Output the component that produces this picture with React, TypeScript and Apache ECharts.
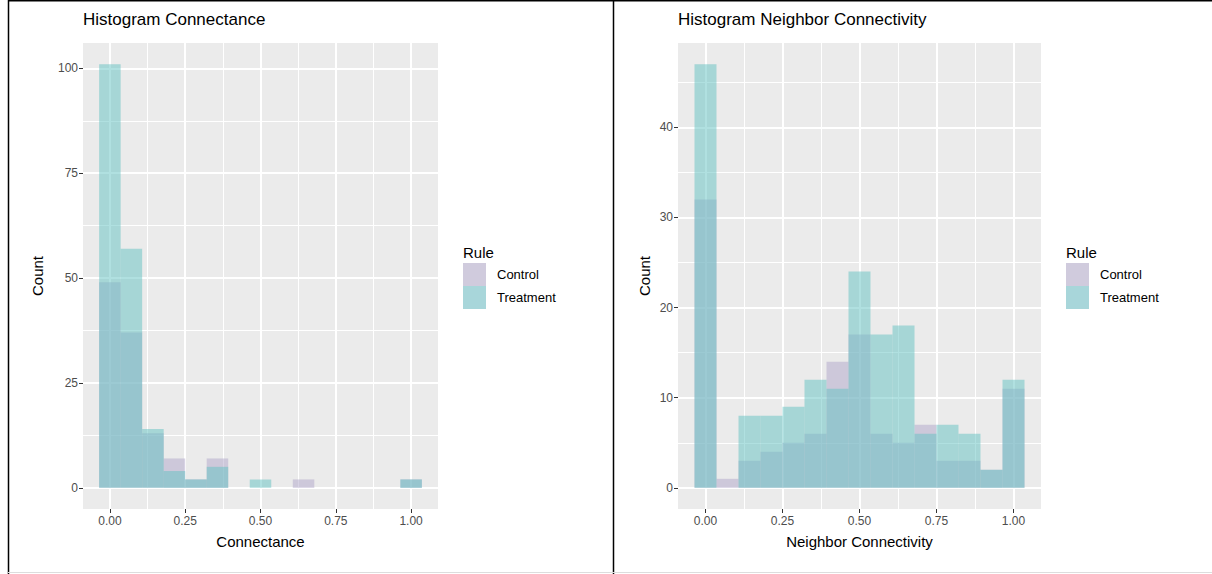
import React, { useEffect, useRef } from 'react';
import * as echarts from 'echarts';

// ---- data ----
const binCenters = [0, 0.0714, 0.1429, 0.2143, 0.2857, 0.3571, 0.4286, 0.5, 0.5714, 0.6429, 0.7143, 0.7857, 0.8571, 0.9286, 1.0];
const binWidth = 0.0714;
const ruleLevels = ['Control', 'Treatment'];

const connectanceControl = [49, 37, 13, 7, 2, 7, 0, 0, 0, 2, 0, 0, 0, 0, 2];
const connectanceTreatment = [101, 57, 14, 4, 2, 5, 0, 2, 0, 0, 0, 0, 0, 0, 2];

const neighborControl = [32, 1, 3, 4, 5, 6, 14, 17, 6, 5, 7, 3, 3, 2, 11];
const neighborTreatment = [47, 0, 8, 8, 9, 12, 11, 24, 17, 18, 6, 7, 6, 2, 12];

const xTicks = [0, 0.25, 0.5, 0.75, 1];
const xMinorTicks = [0.125, 0.375, 0.625, 0.875];
const connectanceYTicks = [0, 25, 50, 75, 100];
const connectanceYMinor = [12.5, 37.5, 62.5, 87.5];
const neighborYTicks = [0, 10, 20, 30, 40];
const neighborYMinor = [5, 15, 25, 35, 45];

const panelTitles = ['Histogram Connectance', 'Histogram Neighbor Connectivity'];
const xTitles = ['Connectance', 'Neighbor Connectivity'];

// ---- styles ----
const FONT = '"Liberation Sans", Arial, Helvetica, sans-serif';
const CONTROL_FILL = '#AFA5C9';
const TREATMENT_FILL = '#62C2C2';
const CONTROL_KEY = '#D0CBDD';
const TREATMENT_KEY = '#A8D6DA';
const PANEL_BG = '#EBEBEB';

const grids = [
  { left: 83, top: 43, width: 355, height: 466 },
  { left: 678, top: 43, width: 363, height: 466 },
];

function binData(counts: number[]) {
  return binCenters.map((c, i) => [c - binWidth / 2, c + binWidth / 2, counts[i]]);
}

function histSeries(name: string, counts: number[], gridIdx: number, fill: string) {
  return {
    type: 'custom',
    name,
    xAxisIndex: gridIdx * 2,
    yAxisIndex: gridIdx * 2,
    data: binData(counts),
    renderItem: (_params: any, api: any) => {
      const x0 = api.value(0);
      const x1 = api.value(1);
      const y = api.value(2);
      if (!y) return null;
      const p0 = api.coord([x0, 0]);
      const p1 = api.coord([x1, y]);
      return {
        type: 'rect',
        shape: { x: p0[0], y: p1[1], width: p1[0] - p0[0], height: p0[1] - p1[1] },
        style: { fill, opacity: 0.5 },
      };
    },
  };
}

function xAxes(gridIndex: number, name: string) {
  const min = -binWidth / 2 - 0.05 * (1 + binWidth);
  const max = 1 + binWidth / 2 + 0.05 * (1 + binWidth);
  return [
    {
      gridIndex,
      type: 'value',
      min,
      max,
      position: 'bottom',
      axisLine: { show: false, onZero: false },
      axisTick: { show: true, length: 4, lineStyle: { color: '#333333', width: 1 }, customValues: xTicks },
      axisLabel: {
        customValues: xTicks,
        formatter: (v: number) => Number(v).toFixed(2),
        color: '#4D4D4D',
        fontSize: 12,
        fontFamily: FONT,
        margin: 6,
      },
      splitLine: { show: true, lineStyle: { color: '#FFFFFF', width: 2 } },
      name,
      nameLocation: 'middle',
      nameGap: 25,
      nameTextStyle: { fontSize: 15, color: '#000000', fontFamily: FONT },
    },
    {
      gridIndex,
      type: 'value',
      min,
      max,
      position: 'bottom',
      axisLine: { show: false, onZero: false },
      axisTick: { show: false, customValues: xMinorTicks },
      axisLabel: { show: false, customValues: xMinorTicks },
      splitLine: { show: true, lineStyle: { color: '#FFFFFF', width: 1 } },
    },
  ];
}

function yAxes(gridIndex: number, counts: number[], ticks: number[], minor: number[], nameGap: number) {
  const top = Math.max(...counts);
  const min = -0.05 * top;
  const max = top * 1.05;
  return [
    {
      gridIndex,
      type: 'value',
      min,
      max,
      position: 'left',
      axisLine: { show: false, onZero: false },
      axisTick: { show: true, length: 4, lineStyle: { color: '#333333', width: 1 }, customValues: ticks },
      axisLabel: {
        customValues: ticks,
        formatter: (v: number) => String(Math.round(v)),
        color: '#4D4D4D',
        fontSize: 12,
        fontFamily: FONT,
        margin: 5,
      },
      splitLine: { show: true, lineStyle: { color: '#FFFFFF', width: 2 } },
      name: 'Count',
      nameLocation: 'middle',
      nameGap,
      nameTextStyle: { fontSize: 15, color: '#000000', fontFamily: FONT },
    },
    {
      gridIndex,
      type: 'value',
      min,
      max,
      position: 'left',
      axisLine: { show: false, onZero: false },
      axisTick: { show: false, customValues: minor },
      axisLabel: { show: false, customValues: minor },
      splitLine: { show: true, lineStyle: { color: '#FFFFFF', width: 1 } },
    },
  ];
}

function legendGraphics(keyX: number, top: number) {
  return [
    { type: 'text', style: { text: 'Rule', x: keyX, y: top - 11, verticalAlign: 'middle', fontSize: 15, fontFamily: FONT, fill: '#000' } },
    { type: 'rect', shape: { x: keyX, y: top, width: 23, height: 23 }, style: { fill: CONTROL_KEY } },
    { type: 'rect', shape: { x: keyX, y: top + 23, width: 23, height: 23 }, style: { fill: TREATMENT_KEY } },
    { type: 'text', style: { text: ruleLevels[0], x: keyX + 34, y: top + 11.5, verticalAlign: 'middle', fontSize: 13, fontFamily: FONT, fill: '#000' } },
    { type: 'text', style: { text: ruleLevels[1], x: keyX + 34, y: top + 34.5, verticalAlign: 'middle', fontSize: 13, fontFamily: FONT, fill: '#000' } },
  ];
}

export default function App() {
  const ref = useRef<HTMLDivElement>(null);

  useEffect(() => {
    if (!ref.current) return;
    const chart = echarts.init(ref.current, null, { renderer: 'svg' });
    const allLeft = connectanceControl.concat(connectanceTreatment);
    const allRight = neighborControl.concat(neighborTreatment);
    chart.setOption({
      animation: false,
      backgroundColor: '#FFFFFF',
      textStyle: { fontFamily: FONT },
      grid: grids.map((g) => ({ ...g, show: true, backgroundColor: PANEL_BG, borderWidth: 0 })),
      xAxis: [...xAxes(0, xTitles[0]), ...xAxes(1, xTitles[1])],
      yAxis: [
        ...yAxes(0, allLeft, connectanceYTicks, connectanceYMinor, 38),
        ...yAxes(1, allRight, neighborYTicks, neighborYMinor, 26),
      ],
      series: [
        histSeries(ruleLevels[0], connectanceControl, 0, CONTROL_FILL),
        histSeries(ruleLevels[1], connectanceTreatment, 0, TREATMENT_FILL),
        histSeries(ruleLevels[0], neighborControl, 1, CONTROL_FILL),
        histSeries(ruleLevels[1], neighborTreatment, 1, TREATMENT_FILL),
      ],
      graphic: [
        { type: 'line', shape: { x1: 8.5, y1: 0, x2: 8.5, y2: 574 }, style: { stroke: '#000', lineWidth: 1.5 } },
        { type: 'line', shape: { x1: 8, y1: 0.75, x2: 1212, y2: 0.75 }, style: { stroke: '#000', lineWidth: 1.5 } },
        { type: 'line', shape: { x1: 613.5, y1: 0, x2: 613.5, y2: 574 }, style: { stroke: '#000', lineWidth: 1.5 } },
        { type: 'line', shape: { x1: 8, y1: 572.5, x2: 1212, y2: 572.5 }, style: { stroke: '#DDDDDD', lineWidth: 1 } },
        { type: 'text', style: { text: panelTitles[0], x: 83, y: 19, verticalAlign: 'middle', fontSize: 17, fontFamily: FONT, fill: '#000' } },
        { type: 'text', style: { text: panelTitles[1], x: 678, y: 19, verticalAlign: 'middle', fontSize: 17, fontFamily: FONT, fill: '#000' } },
        ...legendGraphics(463, 263),
        ...legendGraphics(1066, 263),
      ],
    });
    return () => chart.dispose();
  }, []);

  return (
    <div
      ref={ref}
      style={{ position: 'absolute', left: 0, top: 0, width: 1212, height: 574 }}
    />
  );
}
